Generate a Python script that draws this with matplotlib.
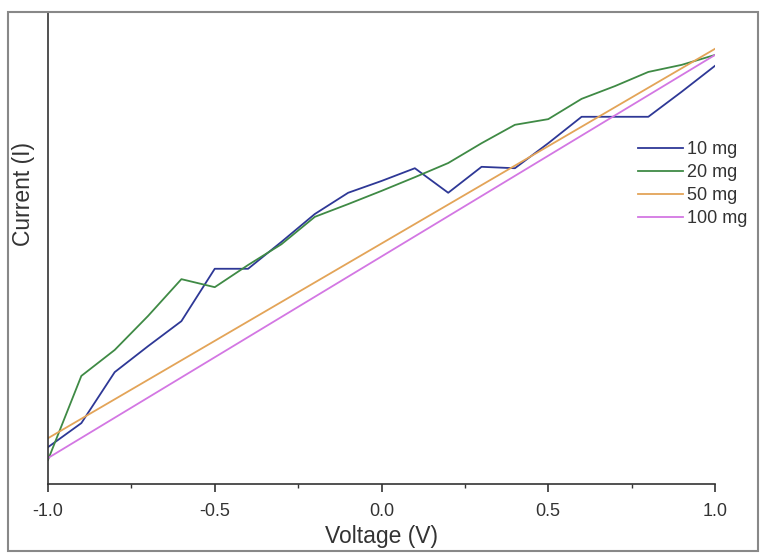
import matplotlib
matplotlib.use("Agg")
import matplotlib.pyplot as plt
from matplotlib.patches import Rectangle
from matplotlib.ticker import MultipleLocator

plt.rcParams['font.family'] = ['Liberation Sans', 'DejaVu Sans']

voltage = [-1.0, -0.9, -0.8, -0.7, -0.6, -0.5, -0.4, -0.3, -0.2, -0.1, 0.0,
           0.1, 0.2, 0.3, 0.4, 0.5, 0.6, 0.7, 0.8, 0.9, 1.0]
current_10mg = [7.8, 12.9, 23.7, 29.2, 34.5, 45.6, 45.6, 51.3, 57.2, 61.7, 64.2,
                66.9, 61.7, 67.2, 66.9, 72.2, 77.8, 77.8, 77.8, 83.1, 88.6]
current_20mg = [5.1, 22.9, 28.4, 35.6, 43.4, 41.7, 46.4, 50.8, 56.6, 59.3, 62.1,
                65.0, 68.0, 72.2, 76.1, 77.3, 81.6, 84.3, 87.3, 88.8, 90.9]
voltage_lin = [-1.0, 1.0]
current_50mg = [9.7, 92.2]
current_100mg = [5.5, 90.9]
labels = ['10 mg', '20 mg', '50 mg', '100 mg']
colors = ['#2e3896', '#3f8a45', '#e3a458', '#d377e3']

fig = plt.figure(figsize=(7.6, 5.53), dpi=100)
ax = fig.add_axes([48/760, 1 - 484/553, (715-48)/760, (484-12)/553])

lw = 1.3
ax.plot(voltage, current_10mg, color=colors[0], lw=lw, label=labels[0])
ax.plot(voltage, current_20mg, color=colors[1], lw=lw, label=labels[1])
ax.plot(voltage_lin, current_50mg, color=colors[2], lw=lw, label=labels[2])
ax.plot(voltage_lin, current_100mg, color=colors[3], lw=lw, label=labels[3])

ax.set_xlim(-1.0, 1.0)
ax.set_ylim(0, 100)
ax.spines['top'].set_visible(False)
ax.spines['right'].set_visible(False)
for s in ['left', 'bottom']:
    ax.spines[s].set_color('#333333')
    ax.spines[s].set_linewidth(1.2)
ax.set_yticks([])
ax.xaxis.set_major_locator(MultipleLocator(0.5))
ax.xaxis.set_minor_locator(MultipleLocator(0.25))
ax.set_xticks([-1.0, -0.5, 0.0, 0.5, 1.0])
ax.set_xticklabels(['-1.0', '-0.5', '0.0', '0.5', '1.0'])
ax.tick_params(axis='x', which='major', direction='out', length=6, width=1.2,
               color='#333333', labelsize=13, labelcolor='#333333', pad=8)
ax.tick_params(axis='x', which='minor', direction='out', length=3, width=1.0,
               color='#333333')

ax.set_xlabel('Voltage (V)', fontsize=16.5, color='#333333', labelpad=3.5)
ax.set_ylabel('Current (I)', fontsize=16.5, color='#333333')
ax.yaxis.set_label_coords(-0.0195, 0.614)

leg = fig.legend(loc='upper left', bbox_to_anchor=(638/760, 1 - 141/553),
                 frameon=False, fontsize=13, handlelength=2.5,
                 handletextpad=0.2, labelspacing=0.34, borderpad=0,
                 borderaxespad=0)
for t in leg.get_texts():
    t.set_color('#333333')

fig.patches.append(Rectangle((8/760, 1 - 551/553), (758-8)/760, (551-12)/553,
                             transform=fig.transFigure, fill=False,
                             edgecolor='#888888', linewidth=1.5, zorder=10))

fig.savefig('out.png', dpi=100)
